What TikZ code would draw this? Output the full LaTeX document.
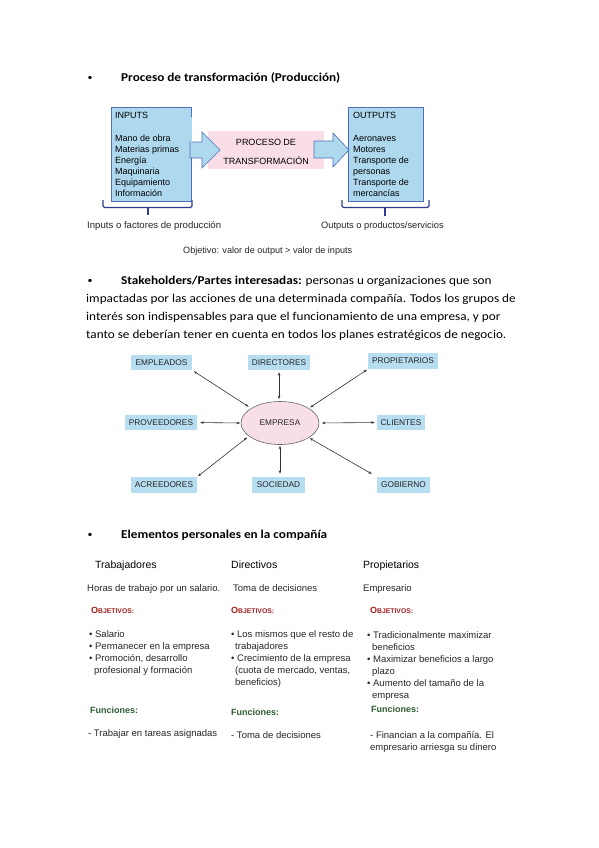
\documentclass[tikz,border=0pt]{standalone}
\usepackage{fontspec}
\setmainfont{Carlito}[FakeStretch=1.1]
\newfontfamily\arial{Liberation Sans}
\usetikzlibrary{shapes.geometric,arrows.meta}
\definecolor{boxblue}{HTML}{AED8EE}
\definecolor{boxedge}{HTML}{4F6FB8}
\definecolor{pinkbox}{HTML}{F9DDE7}
\definecolor{bracecol}{HTML}{2F3D8F}
\definecolor{objred}{HTML}{A31F1F}
\definecolor{fungreen}{HTML}{2F5D32}
\definecolor{stkblue}{HTML}{B7DDF0}
\definecolor{empink}{HTML}{F8DEE9}
\definecolor{txtgray}{HTML}{262626}
\tikzset{
  txt/.style={anchor=base west, inner sep=0pt, text=txtgray},
  bodytxt/.style={txt, font=\fontsize{12}{14}\selectfont, text=black},
  headtxt/.style={txt, font=\fontsize{12}{14}\selectfont\bfseries, text=black},
  bullettxt/.style={txt, font=\fontsize{9}{14}\selectfont, text=black},
  dtxt/.style={txt, font=\arial\fontsize{9}{11}\selectfont, text=black},
  captxt/.style={txt, font=\arial\fontsize{9.3}{10}\selectfont},
  ctxt/.style={txt, font=\arial\fontsize{9.5}{11}\selectfont},
  colhead/.style={txt, font=\arial\fontsize{10.5}{12}\selectfont, text=black},
  objtxt/.style={txt, font=\arial\bfseries, text=objred},
  funtxt/.style={txt, font=\arial\fontsize{9}{11}\selectfont\bfseries, text=fungreen},
  iobox/.style={draw=boxedge, line width=0.6pt, fill=boxblue, anchor=north west, inner sep=0pt},
  stk/.style={fill=stkblue, inner sep=0pt, font=\arial\fontsize{8.3}{10}\selectfont, text=txtgray},
  biarrow/.style={<->, >={Stealth[length=3.5pt,width=2.6pt]}, line width=0.6pt, draw=black!80},
  bracket/.style={draw=bracecol, line width=1.3pt, rounded corners=1.5pt},
  blockarrow/.style={draw=boxedge, line width=0.6pt, fill=boxblue, line join=miter}
}
\newcommand{\objlabel}{{\fontsize{9}{10}\selectfont O\fontsize{6.8}{10}\selectfont BJETIVOS:}}
\begin{document}
\begin{tikzpicture}[x=1pt,y=-1pt]
\useasboundingbox (0,0) rectangle (599,848);
\fill[white] (0,0) rectangle (599,848);

% ---------- Section 1 ----------
\node[bullettxt] (b1) at (87.5,81) {•};
\node[headtxt] (h1) at (121,82) {Proceso de transformación (Producción)};

\node[iobox, minimum width=80pt, minimum height=94pt] (inputs) at (111,107) {};
\node[fill=pinkbox, anchor=north west, inner sep=0pt, minimum width=116pt, minimum height=38pt] (proceso) at (208,131) {};
\node[iobox, minimum width=75pt, minimum height=94pt] (outputs) at (348,107) {};

\draw[blockarrow] (190,142) -- (202,142) -- (202,132) -- (220,150) -- (202,168) -- (202,158) -- (190,158) -- cycle;
\draw[blockarrow] (314,141) -- (333,141) -- (333,133) -- (349,150) -- (333,167) -- (333,158) -- (314,158) -- cycle;
\fill[boxblue] (inputs.north east) ++(-1,10) rectangle ++(0.6,30);

\node[dtxt] (inh) at (115,119) {INPUTS};
\foreach \t [count=\i] in {Mano de obra, Materias primas, Energía, Maquinaria, Equipamiento, Información}
  \node[dtxt, name=in\i] at (115,{141+11*(\i-1)}) {\t};
\node[dtxt] (outh) at (353,119) {OUTPUTS};
\foreach \t [count=\i] in {Aeronaves, Motores, Transporte de, personas, Transporte de, mercancías}
  \node[dtxt, name=out\i] at (353,{141+11*(\i-1)}) {\t};
\node[dtxt, anchor=base] (p1) at (266,146) {PROCESO DE};
\node[dtxt, anchor=base] (p2) at (266,164) {TRANSFORMACIÓN};

\draw[bracket] (103,200) -- (103,207.5) -- (192,207.5) -- (192,200);
\draw[bracecol, line width=1.3pt] (148,207.5) -- (148,215);
\draw[bracket] (342,200) -- (342,207.5) -- (429,207.5) -- (429,200);
\draw[bracecol, line width=1.3pt] (385,207.5) -- (385,216);

\node[captxt, font=\arial\fontsize{9.6}{10}\selectfont] (c1) at (87,228) {Inputs o factores de producción};
\node[captxt] (c2) at (321,228) {Outputs o productos/servicios};
\node[captxt, font=\arial\fontsize{9.1}{10}\selectfont] (c3) at (183,253) {Objetivo: valor de output > valor de inputs};

% ---------- Section 2 ----------
\node[bullettxt] (b2) at (87.5,283) {•};
\node[bodytxt] (l1) at (121,284) {\textbf{Stakeholders/Partes interesadas:} personas u organizaciones que son};
\node[bodytxt] (l2) at (86,302) {impactadas por las acciones de una determinada compañía. Todos los grupos de};
\node[bodytxt] (l3) at (86,320) {interés son indispensables para que el funcionamiento de una empresa, y por};
\node[bodytxt] (l4) at (86,338) {tanto se deberían tener en cuenta en todos los planes estratégicos de negocio.};

\node[ellipse, draw=black!60, line width=0.6pt, fill=empink, minimum width=78pt, minimum height=43pt, inner sep=0pt, font=\arial\fontsize{8.3}{10}\selectfont, text=txtgray] (empresa) at (280,423) {EMPRESA};
\node[stk, minimum width=61pt, minimum height=15pt] (empleados) at (161.5,362.5) {EMPLEADOS};
\node[stk, minimum width=62pt, minimum height=15pt] (directores) at (279,362.5) {DIRECTORES};
\node[stk, minimum width=70pt, minimum height=16pt] (propietarios) at (403,361) {PROPIETARIOS};
\node[stk, minimum width=72pt, minimum height=15pt] (proveedores) at (161,422.5) {PROVEEDORES};
\node[stk, minimum width=48pt, minimum height=15pt] (clientes) at (401,422.5) {CLIENTES};
\node[stk, minimum width=66pt, minimum height=16pt] (acreedores) at (164,485) {ACREEDORES};
\node[stk, minimum width=53pt, minimum height=16pt] (sociedad) at (278.5,485) {SOCIEDAD};
\node[stk, minimum width=53pt, minimum height=16pt] (gobierno) at (403.5,485) {GOBIERNO};

\draw[biarrow, shorten <=2pt, shorten >=3pt] (empleados.south east) -- (empresa.153);
\draw[biarrow, shorten <=2pt, shorten >=2pt] (directores.south) -- (directores.south |- empresa.north);
\draw[biarrow, shorten <=1pt, shorten >=1.5pt] (propietarios.south west) -- (empresa.27);
\draw[biarrow, shorten <=3pt, shorten >=0.5pt] (proveedores.east) -- (empresa.west);
\draw[biarrow, shorten <=2.5pt, shorten >=2pt] (empresa.east) -- (clientes.west);
\draw[biarrow, shorten <=1pt, shorten >=2pt] (acreedores.north east) -- (empresa.203);
\draw[biarrow, shorten <=1pt, shorten >=3pt] (empresa.south) -- (empresa.south |- sociedad.north);
\draw[biarrow, shorten <=1pt, shorten >=6pt] (empresa.-27) -- (gobierno.north west);

% ---------- Section 3 ----------
\node[bullettxt] (b3) at (87.5,537) {•};
\node[headtxt] (h3) at (121,538) {Elementos personales en la compañía};

\node[colhead] (t1) at (95,568) {Trabajadores};
\node[colhead] (t2) at (231,568) {Directivos};
\node[colhead] (t3) at (363,568) {Propietarios};

\node[ctxt] (r1) at (87,591) {Horas de trabajo por un salario.};
\node[ctxt] (r2) at (233,591) {Toma de decisiones};
\node[ctxt] (r3) at (363,591) {Empresario};

\node[objtxt] (o1) at (91,613) {\objlabel};
\node[objtxt] (o2) at (231,613) {\objlabel};
\node[objtxt] (o3) at (370,613) {\objlabel};

\node[ctxt] (a1) at (89,637) {• Salario};
\node[ctxt] (a2) at (89,649) {• Permanecer en la empresa};
\node[ctxt] (a3) at (89,661) {• Promoción, desarrollo};
\node[ctxt] (a4) at (94,673) {profesional y formación};

\node[ctxt] (d1) at (231,637) {• Los mismos que el resto de};
\node[ctxt] (d2) at (235,649) {trabajadores};
\node[ctxt] (d3) at (231,661) {• Crecimiento de la empresa};
\node[ctxt] (d4) at (235,673) {(cuota de mercado, ventas,};
\node[ctxt] (d5) at (235,685) {beneficios)};

\node[ctxt] (e1) at (367,638) {• Tradicionalmente maximizar};
\node[ctxt] (e2) at (372,650) {beneficios};
\node[ctxt] (e3) at (367,662) {• Maximizar beneficios a largo};
\node[ctxt] (e4) at (372,674) {plazo};
\node[ctxt] (e5) at (367,686) {• Aumento del tamaño de la};
\node[ctxt] (e6) at (372,698) {empresa};

\node[funtxt] (f1) at (90,713) {Funciones:};
\node[funtxt] (f2) at (231,715) {Funciones:};
\node[funtxt] (f3) at (371,712) {Funciones:};

\node[ctxt] (g1) at (88,736) {- Trabajar en tareas asignadas};
\node[ctxt] (g2) at (231,738) {- Toma de decisiones};
\node[ctxt] (g3) at (370,738) {- Financian a la compañía. El};
\node[ctxt] (g4) at (370,750) {empresario arriesga su dinero};
\end{tikzpicture}
\end{document}
